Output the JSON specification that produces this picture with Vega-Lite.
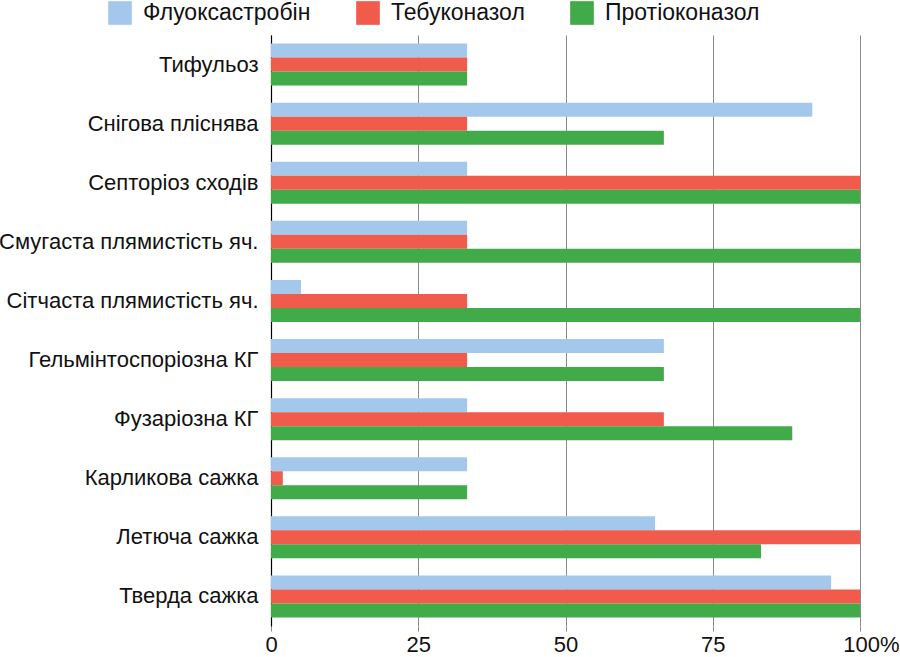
{
  "$schema": "https://vega.github.io/schema/vega-lite/v6.json",
  "width": 589,
  "height": 591,
  "autosize": {"type": "none"},
  "padding": {"left": 271, "top": 35, "right": 40, "bottom": 31},
  "background": "#FFFFFF",
  "view": {"stroke": null},
  "data": {
    "values": [
      {"disease": "Тифульоз", "agent": "Флуоксастробін", "value": 33.3},
      {"disease": "Тифульоз", "agent": "Тебуконазол", "value": 33.3},
      {"disease": "Тифульоз", "agent": "Протіоконазол", "value": 33.3},
      {"disease": "Снігова пліснява", "agent": "Флуоксастробін", "value": 91.9},
      {"disease": "Снігова пліснява", "agent": "Тебуконазол", "value": 33.3},
      {"disease": "Снігова пліснява", "agent": "Протіоконазол", "value": 66.7},
      {"disease": "Септоріоз сходів", "agent": "Флуоксастробін", "value": 33.3},
      {"disease": "Септоріоз сходів", "agent": "Тебуконазол", "value": 100},
      {"disease": "Септоріоз сходів", "agent": "Протіоконазол", "value": 100},
      {"disease": "Смугаста плямистість яч.", "agent": "Флуоксастробін", "value": 33.3},
      {"disease": "Смугаста плямистість яч.", "agent": "Тебуконазол", "value": 33.3},
      {"disease": "Смугаста плямистість яч.", "agent": "Протіоконазол", "value": 100},
      {"disease": "Сітчаста плямистість яч.", "agent": "Флуоксастробін", "value": 5.1},
      {"disease": "Сітчаста плямистість яч.", "agent": "Тебуконазол", "value": 33.3},
      {"disease": "Сітчаста плямистість яч.", "agent": "Протіоконазол", "value": 100},
      {"disease": "Гельмінтоспоріозна КГ", "agent": "Флуоксастробін", "value": 66.7},
      {"disease": "Гельмінтоспоріозна КГ", "agent": "Тебуконазол", "value": 33.3},
      {"disease": "Гельмінтоспоріозна КГ", "agent": "Протіоконазол", "value": 66.7},
      {"disease": "Фузаріозна КГ", "agent": "Флуоксастробін", "value": 33.3},
      {"disease": "Фузаріозна КГ", "agent": "Тебуконазол", "value": 66.7},
      {"disease": "Фузаріозна КГ", "agent": "Протіоконазол", "value": 88.5},
      {"disease": "Карликова сажка", "agent": "Флуоксастробін", "value": 33.3},
      {"disease": "Карликова сажка", "agent": "Тебуконазол", "value": 2.0},
      {"disease": "Карликова сажка", "agent": "Протіоконазол", "value": 33.3},
      {"disease": "Летюча сажка", "agent": "Флуоксастробін", "value": 65.2},
      {"disease": "Летюча сажка", "agent": "Тебуконазол", "value": 100},
      {"disease": "Летюча сажка", "agent": "Протіоконазол", "value": 83.2},
      {"disease": "Тверда сажка", "agent": "Флуоксастробін", "value": 95.1},
      {"disease": "Тверда сажка", "agent": "Тебуконазол", "value": 100},
      {"disease": "Тверда сажка", "agent": "Протіоконазол", "value": 100}
    ]
  },
  "mark": {"type": "bar"},
  "encoding": {
    "y": {
      "field": "disease",
      "type": "nominal",
      "sort": null,
      "scale": {"paddingInner": 0.29, "paddingOuter": 0.145},
      "axis": {
        "title": null,
        "ticks": false,
        "grid": false,
        "domainColor": "#000000",
        "domainWidth": 1.2,
        "labelPadding": 13,
        "labelFontSize": 22,
        "labelColor": "#111111",
        "labelLimit": 300
      }
    },
    "yOffset": {
      "field": "agent",
      "type": "nominal",
      "sort": ["Флуоксастробін", "Тебуконазол", "Протіоконазол"],
      "scale": {"paddingInner": 0, "paddingOuter": 0}
    },
    "x": {
      "field": "value",
      "type": "quantitative",
      "scale": {"domain": [0, 100], "nice": false},
      "axis": {
        "title": null,
        "values": [0, 25, 50, 75, 100],
        "labelExpr": "datum.value == 100 ? '100%' : datum.label",
        "labelOffset": {"condition": {"test": "datum.value === 100", "value": 11}, "value": 0},
        "grid": true,
        "gridColor": "#8a8a8a",
        "gridWidth": 1,
        "domain": false,
        "ticks": true,
        "tickColor": "#8a8a8a",
        "tickSize": 5,
        "labelPadding": 3,
        "labelFontSize": 22,
        "labelColor": "#111111",
        "labelFlush": false,
        "labelOverlap": false
      }
    },
    "color": {
      "field": "agent",
      "type": "nominal",
      "sort": ["Флуоксастробін", "Тебуконазол", "Протіоконазол"],
      "scale": {
        "domain": ["Флуоксастробін", "Тебуконазол", "Протіоконазол"],
        "range": ["#A3C8EC", "#F05B4B", "#41AB4A"]
      },
      "legend": {
        "title": null,
        "orient": "none",
        "direction": "horizontal",
        "legendX": -163,
        "legendY": -34,
        "symbolType": "square",
        "symbolSize": 560,
        "symbolStrokeWidth": 0,
        "symbolOpacity": 1,
        "labelFontSize": 23,
        "labelColor": "#111111",
        "labelOffset": 11,
        "columnPadding": 45,
        "labelLimit": 300
      }
    }
  },
  "config": {
    "font": "Liberation Sans"
  }
}
